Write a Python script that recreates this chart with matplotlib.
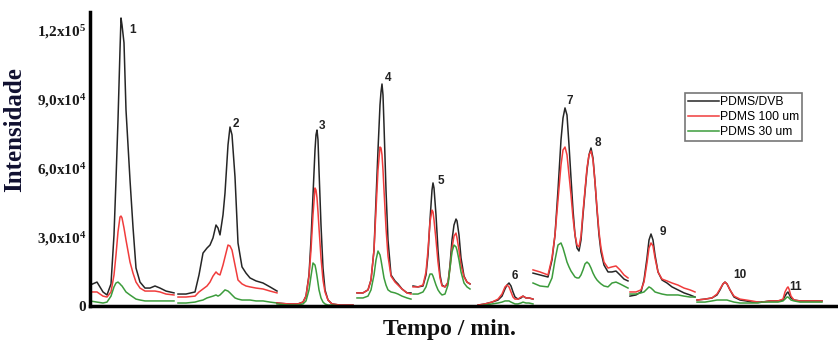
import matplotlib
matplotlib.use("Agg")
import matplotlib.pyplot as plt

# retention time (arbitrary units, axis has no labels) and intensity (x10^3)
# chromatogram is a composite of separate windows, one list set per window
seg1_t = [0, 7, 13, 17, 21, 24, 26, 28, 30, 31, 32, 34, 36, 40, 43, 46, 50, 55, 60, 65, 70, 76, 84]
seg1_dvb = [9.1, 10.4, 6.1, 4.8, 9.6, 30.9, 54.8, 80.9, 111.3, 125.2, 122.2, 114.4, 85.2, 54.8, 34.3,
            16.5, 10.4, 7.8, 7.8, 8.7, 7.8, 6.5, 5.7]
seg1_100 = [6.1, 6.1, 4.3, 3.9, 6.1, 13.5, 22.2, 32.2, 38.7, 39.1, 38.3, 33.9, 28.7, 19.1, 14.3,
            10.4, 7.8, 6.5, 6.5, 6.5, 6.1, 5.2, 4.8]
seg1_30 = [2.2, 1.7, 1.3, 1.7, 4.3, 8.3, 10.0, 10.4, 9.6, 9.1, 8.7, 7.4, 6.1, 4.8, 3.9,
           3.0, 2.6, 2.2, 2.2, 2.2, 2.2, 2.2, 2.2]

seg2_t = [88, 96, 105, 109, 113, 117, 120, 123, 126, 128, 130, 133, 135, 138, 140, 142, 145, 148,
          152, 156, 160, 166, 173, 180, 187]
seg2_dvb = [5.2, 5.2, 6.1, 13.5, 23.0, 25.2, 26.5, 29.6, 35.2, 33.9, 30.9, 39.6, 49.1, 70.0, 77.8,
            74.4, 56.1, 27.4, 17.0, 14.3, 12.2, 10.9, 10.0, 8.3, 6.5]
seg2_100 = [3.9, 3.9, 4.3, 6.1, 7.4, 8.7, 10.4, 13.0, 14.8, 13.9, 13.5, 17.8, 21.3, 26.5, 26.1,
            24.3, 17.8, 11.3, 9.6, 8.7, 8.3, 7.8, 7.4, 6.5, 5.7]
seg2_30 = [1.3, 1.3, 1.7, 2.2, 2.6, 3.5, 3.9, 4.3, 4.8, 4.3, 4.8, 6.1, 7.0, 6.5, 5.7,
           4.8, 3.5, 3.0, 2.6, 2.6, 2.6, 2.2, 2.2, 1.7, 1.3]

seg3_t = [187, 198, 208, 213, 216, 219, 221, 223, 225, 226, 227, 228, 229, 231, 233, 235, 238, 242, 250, 263]
seg3_dvb = [1.3, 0.9, 0.9, 1.7, 4.3, 13.5, 28.7, 48.3, 67.8, 74.4, 76.5, 72.2, 59.1, 35.2, 16.5,
            7.0, 2.6, 0.9, 0.4, 0.4]
seg3_100 = [1.3, 0.9, 0.9, 1.7, 4.3, 13.0, 24.3, 39.6, 51.3, 50.4, 47.0, 40.9, 33.9, 20.9, 11.3,
            6.1, 2.6, 0.9, 0.4, 0.4]
seg3_30 = [0.9, 0.4, 0.4, 0.9, 2.2, 7.0, 13.0, 18.7, 17.8, 15.7, 13.0, 10.0, 7.0, 3.5, 1.7,
           0.9, 0.4, 0.4, 0.0, 0.0]

seg4_t = [267, 273, 278, 281, 284, 286, 288, 290, 291, 292, 293, 294, 296, 298, 301, 305, 308, 312, 317, 321]
seg4_dvb = [5.7, 5.7, 7.0, 11.3, 24.3, 46.1, 67.8, 87.4, 93.0, 96.5, 91.7, 78.7, 50.4, 28.7, 13.5,
            10.9, 9.6, 7.4, 5.7, 5.7]
seg4_100 = [5.7, 5.7, 7.0, 11.3, 24.3, 41.7, 59.1, 69.1, 68.7, 65.7, 59.1, 50.4, 33.9, 21.7, 13.0,
            10.4, 9.1, 7.4, 5.7, 5.2]
seg4_30 = [3.5, 3.5, 4.3, 7.0, 13.5, 20.0, 23.9, 22.2, 20.0, 17.4, 14.8, 12.2, 9.1, 7.0, 6.1,
           5.7, 5.2, 4.3, 3.5, 3.0]

seg5_t = [323, 328, 333, 336, 338, 340, 342, 343, 344, 346, 348, 350, 352, 355, 358, 360, 362, 364,
          366, 367, 369, 371, 374, 377, 380]
seg5_dvb = [8.7, 8.3, 8.7, 13.5, 22.2, 37.4, 50.4, 53.5, 51.3, 39.6, 24.3, 13.5, 9.1, 8.3, 10.0,
            17.8, 28.7, 35.2, 37.8, 37.0, 30.9, 20.9, 13.0, 10.4, 9.6]
seg5_100 = [8.3, 8.3, 9.1, 14.8, 24.3, 36.5, 41.7, 40.9, 37.4, 28.7, 19.1, 12.2, 8.7, 8.3, 10.4,
            16.5, 25.2, 30.4, 31.7, 29.6, 24.3, 17.8, 12.6, 10.4, 9.6]
seg5_30 = [5.2, 5.2, 6.1, 8.3, 11.3, 13.9, 13.9, 13.0, 11.7, 9.1, 7.0, 5.7, 4.8, 5.2, 9.1,
           16.5, 23.5, 26.5, 25.7, 24.3, 20.0, 14.8, 10.0, 8.3, 7.4]

seg6_t = [388, 395, 402, 408, 412, 415, 417, 419, 421, 423, 425, 428, 431, 433, 436, 439, 443]
seg6_dvb = [0.4, 0.9, 1.7, 2.6, 4.3, 7.4, 9.1, 10.0, 8.7, 6.1, 3.9, 3.0, 3.5, 4.3, 3.5, 3.5, 3.0]
seg6_100 = [0.4, 0.9, 1.7, 3.0, 5.2, 8.3, 9.1, 8.3, 6.1, 3.9, 3.0, 3.0, 3.9, 4.3, 3.5, 3.5, 3.0]
seg6_30 = [0.0, 0.4, 0.9, 1.3, 1.7, 2.2, 2.2, 2.2, 1.7, 1.3, 0.9, 0.9, 1.3, 1.7, 1.3, 1.3, 0.9]

seg7_t = [443, 450, 458, 462, 465, 468, 471, 473, 475, 477, 479, 481, 483, 485, 487, 489, 491, 493,
          495, 497, 499, 501, 503, 505, 507, 509, 511, 514, 518, 522, 526, 530, 534, 538]
seg7_dvb = [14.3, 13.5, 12.6, 20.0, 30.9, 50.4, 72.2, 81.7, 86.1, 83.0, 70.0, 55.7, 41.7, 30.9, 25.2,
            23.9, 28.7, 39.6, 49.6, 59.1, 65.7, 68.7, 64.3, 53.9, 41.7, 30.9, 23.5, 17.8, 14.8, 14.8,
            15.2, 13.5, 11.7, 10.9]
seg7_100 = [15.7, 14.8, 13.5, 20.9, 30.9, 46.1, 61.3, 67.8, 69.1, 65.7, 57.0, 48.3, 38.3, 30.9, 26.5,
            25.7, 30.4, 40.9, 50.4, 60.0, 65.7, 67.4, 63.5, 53.9, 42.6, 32.2, 25.2, 19.1, 16.5, 17.0,
            17.4, 15.7, 13.5, 12.2]
seg7_30 = [10.0, 8.7, 8.3, 12.2, 20.0, 26.5, 27.4, 25.2, 22.2, 19.1, 17.0, 15.2, 13.9, 12.6, 12.2,
           12.2, 13.5, 15.7, 18.3, 19.1, 18.3, 16.5, 14.3, 12.6, 11.3, 10.4, 9.6, 8.7, 8.3, 10.0,
           10.4, 9.6, 8.7, 7.8]

seg8_t = [540, 546, 551, 554, 557, 559, 561, 563, 565, 568, 572, 577, 582, 588, 594, 600, 605]
seg8_dvb = [4.3, 4.8, 6.1, 11.3, 20.9, 28.7, 31.3, 28.7, 22.2, 14.8, 11.3, 10.0, 8.3, 7.0, 5.7, 4.8, 3.9]
seg8_100 = [6.1, 6.1, 7.0, 10.4, 18.7, 25.2, 27.4, 26.1, 20.9, 14.8, 11.7, 10.9, 10.0, 9.1, 7.8, 7.0, 6.1]
seg8_30 = [5.2, 5.2, 5.7, 6.1, 7.4, 8.3, 7.8, 7.0, 6.1, 5.7, 5.2, 4.8, 4.8, 4.8, 4.3, 3.9, 3.9]

seg9_t = [607, 615, 622, 627, 630, 633, 635, 637, 640, 644, 650, 656, 662, 668, 672]
seg9_dvb = [2.6, 3.0, 3.5, 4.8, 7.0, 9.6, 10.4, 9.6, 7.0, 3.9, 2.6, 2.2, 1.7, 1.7, 1.7]
seg9_100 = [2.6, 3.0, 3.5, 5.2, 7.4, 9.6, 10.4, 9.6, 7.0, 4.3, 3.0, 2.6, 2.2, 1.7, 1.7]
seg9_30 = [1.7, 1.7, 2.2, 2.6, 2.6, 2.6, 2.6, 2.6, 2.2, 1.7, 1.3, 1.3, 1.3, 1.3, 1.7]

seg10_t = [672, 680, 688, 693, 695, 697, 698, 699, 701, 704, 710, 720, 732]
seg10_dvb = [1.7, 2.2, 2.2, 2.6, 4.3, 5.7, 6.1, 5.2, 3.5, 2.6, 2.2, 2.2, 2.2]
seg10_100 = [1.7, 2.2, 2.2, 3.0, 6.1, 7.8, 8.3, 7.4, 4.3, 2.6, 2.2, 2.2, 2.2]
seg10_30 = [1.7, 1.7, 1.7, 2.2, 3.0, 3.9, 3.9, 3.5, 2.6, 2.2, 1.7, 1.7, 1.7]

peak_labels = ["1", "2", "3", "4", "5", "6", "7", "8", "9", "10", "11"]
peak_label_t = [43, 146, 232, 298, 351, 425, 480, 508, 573, 650, 706]
peak_label_y = [120.0, 79.1, 78.3, 99.1, 54.3, 13.0, 89.1, 70.9, 32.2, 13.5, 8.3]

ytick_vals = [0, 30, 60, 90, 120]
ytick_text = ["0", "3,0x10$^4$", "6,0x10$^4$", "9,0x10$^4$", "1,2x10$^5$"]

fibers = ["PDMS/DVB", "PDMS 100 um", "PDMS 30 um"]
colors = ["#262626", "#f03c3c", "#3c9c3c"]

segments = [
    (seg1_t, seg1_dvb, seg1_100, seg1_30),
    (seg2_t, seg2_dvb, seg2_100, seg2_30),
    (seg3_t, seg3_dvb, seg3_100, seg3_30),
    (seg4_t, seg4_dvb, seg4_100, seg4_30),
    (seg5_t, seg5_dvb, seg5_100, seg5_30),
    (seg6_t, seg6_dvb, seg6_100, seg6_30),
    (seg7_t, seg7_dvb, seg7_100, seg7_30),
    (seg8_t, seg8_dvb, seg8_100, seg8_30),
    (seg9_t, seg9_dvb, seg9_100, seg9_30),
    (seg10_t, seg10_dvb, seg10_100, seg10_30),
]

plt.rcParams["mathtext.fontset"] = "custom"
plt.rcParams["mathtext.rm"] = "Liberation Serif:bold"
plt.rcParams["mathtext.default"] = "rm"

fig = plt.figure(figsize=(8.38, 3.46), dpi=100)
ax = fig.add_axes([90 / 838, 40 / 346, 748 / 838, 294 / 346])

for k, seg in enumerate(segments):
    t = seg[0]
    for i in range(3):
        ax.plot(t, seg[i + 1], color=colors[i], lw=1.1,
                label=fibers[i] if k == 0 else None, solid_joinstyle="round")

for lab, tx, ty in zip(peak_labels, peak_label_t, peak_label_y):
    ax.text(tx, ty, lab, ha="center", va="center", fontsize=8.5, fontweight="bold",
            family="Liberation Sans", color="#222222")

ax.set_xlim(0, 748)
ax.set_ylim(0, 127.8)
ax.set_xticks([])
ax.set_yticks(ytick_vals)
ax.set_yticklabels(ytick_text, family="Liberation Serif", fontweight="bold",
                   fontsize=11, color="#1a1a1a")
ax.tick_params(axis="y", length=0, pad=3)
for s in ["top", "right"]:
    ax.spines[s].set_visible(False)
ax.spines["left"].set_linewidth(2.5)
ax.spines["bottom"].set_linewidth(2.5)

ax.set_ylabel("Intensidade", family="Liberation Serif", fontweight="bold",
              fontsize=18, color="#101030")
ax.yaxis.set_label_coords(-0.086, 0.6)
ax.set_xlabel("Tempo / min.", family="Liberation Serif", fontweight="bold",
              fontsize=17, color="#101010")
ax.xaxis.set_label_coords(0.48, -0.045)

leg = ax.legend(loc="upper left", bbox_to_anchor=(0.795, 0.724),
                prop={"family": "Liberation Sans", "size": 8.7},
                handlelength=2.6, handletextpad=0.1, labelspacing=0.25,
                borderpad=0.25, borderaxespad=0, fancybox=False,
                frameon=True, edgecolor="#555555")
leg.get_frame().set_linewidth(1.2)

fig.savefig("out.png", dpi=100)
